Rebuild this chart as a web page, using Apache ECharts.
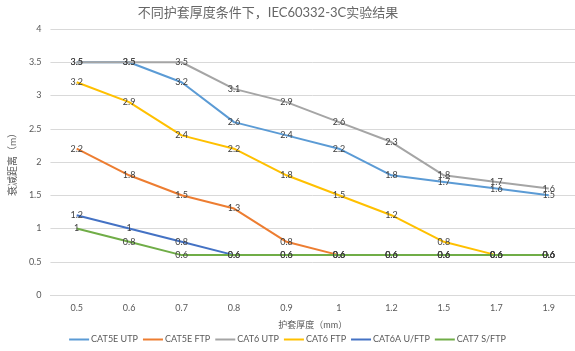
<!DOCTYPE html>
<html>
<head>
    <title>ECharts</title>
	<meta charset = "utf-8">
	<script type="text/javascript" src="https://cdn.jsdelivr.net/npm/echarts@6/dist/echarts.min.js"></script>
</head>
<body style="margin:0">
    <div id="main" style="width:575px;height:351px"></div>
    <script type="text/javascript">
	// 护套厚度 (mm)
	var categories = ['0.5','0.6','0.7','0.8','0.9','1','1.2','1.5','1.7','1.9'];
	var seriesNames = ['CAT5E UTP','CAT5E FTP','CAT6 UTP','CAT6 FTP','CAT6A U/FTP','CAT7 S/FTP'];
	var cat5eUtp = [3.5,3.5,3.2,2.6,2.4,2.2,1.8,1.7,1.6,1.5];
	var cat5eFtp = [2.2,1.8,1.5,1.3,0.8,0.6,0.6,0.6,0.6,0.6];
	var cat6Utp  = [3.5,3.5,3.5,3.1,2.9,2.6,2.3,1.8,1.7,1.6];
	var cat6Ftp  = [3.2,2.9,2.4,2.2,1.8,1.5,1.2,0.8,0.6,0.6];
	var cat6aUftp = [1.2,1,0.8,0.6,0.6,0.6,0.6,0.6,0.6,0.6];
	var cat7Sftp  = [1,0.8,0.6,0.6,0.6,0.6,0.6,0.6,0.6,0.6];
	var colors = ['#5B9BD5','#ED7D31','#A5A5A5','#FFC000','#4472C4','#70AD47'];

	var font = 'Lato, "Noto Sans CJK SC", sans-serif';
	var allData = [cat5eUtp, cat5eFtp, cat6Utp, cat6Ftp, cat6aUftp, cat7Sftp];

	var series = [];
	for (var i = 0; i < allData.length; i++) {
		series.push({
			name: seriesNames[i],
			type: 'line',
			data: allData[i],
			symbol: 'circle',
			symbolSize: 0,
			showSymbol: true,
			lineStyle: {width: 2, color: colors[i]},
			itemStyle: {color: colors[i]},
			labelLayout: {hideOverlap: false},
			label: {
				show: true,
				position: 'inside',
				fontSize: 9,
				color: '#404040',
				fontFamily: font
			}
		});
	}

	var myChart = echarts.init(document.getElementById('main'));
	var option = {
		color: colors,
		title: {
			text: '不同护套厚度条件下，IEC60332-3C实验结果',
			left: 263,
			top: 1,
			textAlign: 'center',
			textStyle: {fontSize: 13, fontWeight: 'normal', color: '#666666', fontFamily: font}
		},
		legend: {
			data: seriesNames,
			bottom: 2,
			left: 'center',
			icon: 'rect',
			itemWidth: 20,
			itemHeight: 2,
			itemGap: 5,
			textStyle: {fontSize: 9, color: '#595959', fontFamily: font, padding: [0,0,0,-3]}
		},
		grid: {left: 34, right: 0, top: 29, bottom: 56},
		xAxis: {
			type: 'category',
			data: categories,
			name: '护套厚度（mm）',
			nameLocation: 'middle',
			nameGap: 26,
			nameTextStyle: {fontSize: 9, color: '#595959', fontFamily: font},
			axisLine: {lineStyle: {color: '#D9D9D9'}},
			axisTick: {show: false},
			axisLabel: {fontSize: 9, color: '#595959', fontFamily: font, margin: 9}
		},
		yAxis: {
			type: 'value',
			min: 0,
			max: 4,
			interval: 0.5,
			name: '衰减距离（m）',
			nameLocation: 'middle',
			nameGap: 22,
			nameTextStyle: {fontSize: 10, color: '#595959', fontFamily: font},
			axisLabel: {fontSize: 9, color: '#595959', fontFamily: font, margin: 9},
			splitLine: {lineStyle: {color: '#D9D9D9'}}
		},
		series: series
	};
	myChart.setOption(option);
    </script>
</body>
</html>
